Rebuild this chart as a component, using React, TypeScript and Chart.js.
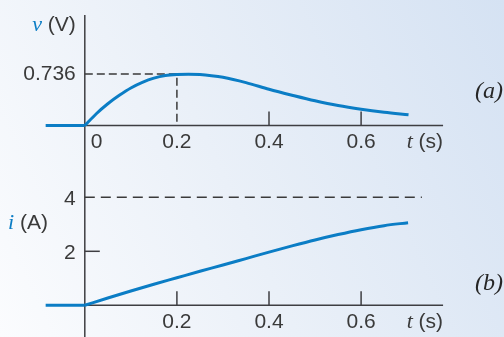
import React, { useEffect, useRef } from 'react';
import { Chart, registerables } from 'chart.js';

Chart.register(...registerables);

const W = 504;
const H = 337;

// ---------- panel (a): v(t) ----------
const tBeforeV = [-0.085, 0];
const vBefore = [0, 0];
const tV = [0, 0.025, 0.05, 0.075, 0.1, 0.125, 0.15, 0.175, 0.2, 0.225, 0.25, 0.275, 0.3, 0.35, 0.4, 0.45, 0.5, 0.55, 0.6, 0.65, 0.703];
const vV = [0, 0.168, 0.31, 0.43, 0.535, 0.615, 0.675, 0.712, 0.727, 0.731, 0.726, 0.711, 0.688, 0.612, 0.517, 0.432, 0.352, 0.284, 0.232, 0.19, 0.154];
const peakGuideT = [0, 0.2, 0.2];
const peakGuideV = [0.736, 0.736, 0];

// ---------- panel (b): i(t) ----------
const tBeforeI = [-0.085, 0];
const iBefore = [0, 0];
const tI = [0, 0.05, 0.1, 0.15, 0.2, 0.25, 0.3, 0.35, 0.4, 0.45, 0.5, 0.55, 0.6, 0.65, 0.702];
const iI = [0, 0.27, 0.53, 0.78, 1.02, 1.26, 1.49, 1.73, 1.97, 2.2, 2.42, 2.62, 2.8, 2.95, 3.06];
const asymT = [0, 0.732];
const asymI = [4, 4];

// ---------- ticks ----------
const topXTicks = [0, 0.2, 0.4, 0.6];
const topXTickLabels = ['0', '0.2', '0.4', '0.6'];
const topXTickMarks = [0.4, 0.6];
const bottomXTicks = [0.2, 0.4, 0.6];
const bottomXTickLabels = ['0.2', '0.4', '0.6'];
const bottomXTickMarks = [0.2, 0.4, 0.6];
const vYTicks = [0.736];
const vYTickLabels = ['0.736'];
const iYTicks = [2, 4];
const iYTickLabels = ['2', '4'];
const iYTickMarks = [2];
const axisEndT = 0.778;

const BLUE = '#0b7dc5';
const AXIS = '#3e3e42';
const TEXT = '#3a3a3a';
const SANS = '"Liberation Sans", Arial, sans-serif';
const SERIF = '"Liberation Serif", "DejaVu Serif", serif';

const pts = (xs: number[], ys: number[]) => xs.map((x, k) => ({ x, y: ys[k] }));

const axesPlugin = {
  id: 'customAxes',
  beforeDatasetsDraw(chart: any) {
    const { ctx, chartArea } = chart;
    const x = chart.scales.x;
    const yv = chart.scales.yv;
    const yi = chart.scales.yi;
    const x0 = x.getPixelForValue(0);
    const xEnd = x.getPixelForValue(axisEndT);
    const yv0 = yv.getPixelForValue(0);
    const yi0 = yi.getPixelForValue(0);
    ctx.save();
    ctx.strokeStyle = AXIS;
    ctx.lineWidth = 1.5;
    const line = (a: number, b: number, c: number, d: number) => {
      ctx.beginPath();
      ctx.moveTo(a, b);
      ctx.lineTo(c, d);
      ctx.stroke();
    };
    line(x0, chartArea.top, x0, chartArea.bottom);
    line(x0, yv0, xEnd, yv0);
    line(x0, yi0, xEnd, yi0);
    topXTickMarks.forEach((t) => {
      const px = x.getPixelForValue(t);
      line(px, yv0, px, yv0 - 14);
    });
    bottomXTickMarks.forEach((t) => {
      const px = x.getPixelForValue(t);
      line(px, yi0, px, yi0 - 14);
    });
    iYTickMarks.forEach((v) => {
      const py = yi.getPixelForValue(v);
      line(x0, py, x0 + 15, py);
    });
    ctx.restore();
  },
  afterDraw(chart: any) {
    const { ctx } = chart;
    const x = chart.scales.x;
    const yv = chart.scales.yv;
    const yi = chart.scales.yi;
    const x0 = x.getPixelForValue(0);
    const xEnd = x.getPixelForValue(axisEndT);
    const yv0 = yv.getPixelForValue(0);
    const yi0 = yi.getPixelForValue(0);
    ctx.save();
    ctx.fillStyle = TEXT;
    ctx.textBaseline = 'middle';
    const sansFont = `21px ${SANS}`;
    const serifItalic = `italic 22px ${SERIF}`;
    ctx.font = sansFont;

    topXTicks.forEach((t, k) => {
      const px = x.getPixelForValue(t);
      if (t === 0) {
        ctx.textAlign = 'left';
        ctx.fillText(topXTickLabels[k], px + 6, yv0 + 16.5);
      } else {
        ctx.textAlign = 'center';
        ctx.fillText(topXTickLabels[k], px, yv0 + 16.5);
      }
    });
    bottomXTicks.forEach((t, k) => {
      ctx.textAlign = 'center';
      ctx.fillText(bottomXTickLabels[k], x.getPixelForValue(t), yi0 + 16.5);
    });
    ctx.textAlign = 'right';
    vYTicks.forEach((v, k) => {
      ctx.fillText(vYTickLabels[k], x0 - 9, yv.getPixelForValue(v));
    });
    iYTicks.forEach((v, k) => {
      ctx.fillText(iYTickLabels[k], x0 - 9, yi.getPixelForValue(v) + 2);
    });

    const mixed = (sym: string, symColor: string, unit: string, right: number, cy: number) => {
      ctx.font = sansFont;
      const wu = ctx.measureText(unit).width;
      ctx.font = serifItalic;
      const ws = ctx.measureText(sym).width;
      ctx.textAlign = 'left';
      ctx.fillStyle = symColor;
      ctx.fillText(sym, right - wu - ws, cy);
      ctx.font = sansFont;
      ctx.fillStyle = TEXT;
      ctx.fillText(unit, right - wu, cy);
    };
    mixed('v', BLUE, ' (V)', x0 - 9, yv0 - 100.5);
    mixed('i', BLUE, ' (A)', 48, yi0 - 82.5);
    mixed('t', TEXT, ' (s)', xEnd, yv0 + 16.5);
    mixed('t', TEXT, ' (s)', xEnd, yi0 + 16.5);

    ctx.font = `italic 24px ${SERIF}`;
    ctx.fillStyle = '#262626';
    ctx.textAlign = 'right';
    ctx.fillText('(a)', W - 1, yv0 - 34);
    ctx.fillText('(b)', W - 1, yi0 - 22);
    ctx.restore();
  },
};

export default function App() {
  const ref = useRef<HTMLCanvasElement | null>(null);
  useEffect(() => {
    if (!ref.current) return;
    const xMin = -0.1;
    const xMax = 0.8;
    const pxPerT = 460.5;
    const xZero = 84.8;
    const left = xZero + xMin * pxPerT;
    const right = W - (xZero + xMax * pxPerT);
    const top = 15;
    const vZero = 125.5;
    const pxPerV = 70.1;
    const iZero = 305.3;
    const pxPerA = 27;
    const chart = new Chart(ref.current, {
      type: 'line',
      data: {
        datasets: [
          { data: pts(tBeforeV, vBefore), yAxisID: 'yv', borderColor: BLUE, borderWidth: 3, order: 0 },
          { data: pts(tV, vV), yAxisID: 'yv', borderColor: BLUE, borderWidth: 3, cubicInterpolationMode: 'monotone', order: 0 },
          { data: pts(tBeforeI, iBefore), yAxisID: 'yi', borderColor: BLUE, borderWidth: 3, order: 0 },
          { data: pts(tI, iI), yAxisID: 'yi', borderColor: BLUE, borderWidth: 3, cubicInterpolationMode: 'monotone', order: 0 },
          { data: pts(peakGuideT, peakGuideV), yAxisID: 'yv', borderColor: '#3a3a3a', borderWidth: 1.5, borderDash: [8, 4], order: 1 },
          { data: pts(asymT, asymI), yAxisID: 'yi', borderColor: '#3a3a3a', borderWidth: 1.5, borderDash: [10, 6], order: 1 },
        ],
      },
      options: {
        responsive: false,
        animation: false,
        layout: { padding: { left, right, top, bottom: 0 } },
        elements: { point: { radius: 0 }, line: { fill: false } },
        plugins: { legend: { display: false }, tooltip: { enabled: false } },
        scales: {
          x: { type: 'linear', min: xMin, max: xMax, display: false },
          yv: {
            type: 'linear',
            min: -(H - vZero) / pxPerV,
            max: (vZero - top) / pxPerV,
            display: false,
          },
          yi: {
            type: 'linear',
            min: -(H - iZero) / pxPerA,
            max: (iZero - top) / pxPerA,
            display: false,
          },
        },
      },
      plugins: [axesPlugin],
    } as any);
    return () => chart.destroy();
  }, []);
  return (
    <div
      style={{
        position: 'absolute',
        left: 0,
        top: 0,
        width: W,
        height: H,
        background: 'linear-gradient(65deg, #fbfcfe 0%, #eaf0f8 45%, #d5e2f3 100%)',
      }}
    >
      <canvas ref={ref} width={W} height={H} style={{ width: W, height: H, display: 'block' }} />
    </div>
  );
}
